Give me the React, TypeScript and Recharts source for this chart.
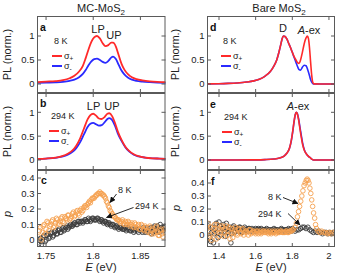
import React from 'react';
import { ComposedChart, Line, Scatter, XAxis, YAxis } from 'recharts';

const FONT = '"Liberation Sans", Arial, sans-serif';
const RED = '#ff2a2a';
const BLUE = '#2a2aff';
const ORANGE = '#f5a04f';
const DARK = '#3c3c3c';
const FRAME = '#5a5a5a';
const TXT = '#222';

// ---------- Panel a: MC-MoS2, 8 K ----------
const aE = [1.740, 1.750, 1.760, 1.768, 1.775, 1.780, 1.785, 1.789, 1.792, 1.795, 1.798, 1.801, 1.804, 1.807, 1.810, 1.813, 1.816, 1.819, 1.821, 1.824, 1.827, 1.830, 1.833, 1.837, 1.841, 1.846, 1.852, 1.860, 1.868, 1.877];
const aPlus = [0.04, 0.05, 0.06, 0.08, 0.12, 0.17, 0.26, 0.38, 0.54, 0.72, 0.88, 0.97, 1.0, 0.95, 0.85, 0.79, 0.81, 0.86, 0.86, 0.78, 0.6, 0.42, 0.3, 0.2, 0.14, 0.1, 0.075, 0.055, 0.045, 0.04];
const aMinus = [0.025, 0.03, 0.035, 0.045, 0.065, 0.09, 0.14, 0.21, 0.29, 0.39, 0.47, 0.52, 0.53, 0.5, 0.46, 0.44, 0.48, 0.55, 0.57, 0.52, 0.4, 0.28, 0.2, 0.13, 0.09, 0.065, 0.05, 0.038, 0.03, 0.025];

// ---------- Panel b: MC-MoS2, 294 K ----------
const bE = [1.740, 1.750, 1.760, 1.767, 1.773, 1.778, 1.782, 1.786, 1.790, 1.794, 1.797, 1.800, 1.803, 1.806, 1.809, 1.812, 1.815, 1.817, 1.820, 1.823, 1.826, 1.830, 1.834, 1.838, 1.843, 1.848, 1.855, 1.863, 1.870, 1.877];
const bPlus = [0.02, 0.03, 0.05, 0.08, 0.13, 0.2, 0.3, 0.45, 0.65, 0.85, 0.94, 0.97, 0.93, 0.87, 0.86, 0.9, 0.97, 0.98, 0.92, 0.78, 0.6, 0.42, 0.28, 0.19, 0.12, 0.08, 0.05, 0.035, 0.03, 0.025];
const bMinus = [0.02, 0.03, 0.045, 0.07, 0.11, 0.17, 0.25, 0.37, 0.53, 0.69, 0.76, 0.78, 0.75, 0.72, 0.73, 0.79, 0.86, 0.88, 0.84, 0.72, 0.56, 0.4, 0.27, 0.18, 0.11, 0.075, 0.05, 0.035, 0.03, 0.025];

// ---------- Panel c: MC-MoS2 polarization (two interleaved energy grids) ----------
const cE = [1.742, 1.744, 1.746, 1.748, 1.750, 1.752, 1.754, 1.756, 1.758, 1.760, 1.762, 1.764, 1.766, 1.768, 1.770, 1.772, 1.774, 1.776, 1.778, 1.780, 1.782, 1.784, 1.786, 1.788, 1.790, 1.792, 1.794, 1.796, 1.798, 1.800, 1.802, 1.804, 1.806, 1.808, 1.810, 1.812, 1.814, 1.816, 1.818, 1.820, 1.822, 1.824, 1.826, 1.828, 1.830, 1.832, 1.834, 1.836, 1.838, 1.840, 1.842, 1.844, 1.846, 1.848, 1.850, 1.852, 1.854, 1.856, 1.858, 1.860, 1.862, 1.864, 1.866, 1.868, 1.870, 1.872, 1.874, 1.876];
const cP8K = [0.02, 0.08, 0.05, 0.10, 0.07, 0.11, 0.09, 0.12, 0.08, 0.11, 0.13, 0.10, 0.14, 0.12, 0.15, 0.13, 0.16, 0.14, 0.17, 0.15, 0.18, 0.17, 0.19, 0.18, 0.21, 0.22, 0.23, 0.25, 0.26, 0.27, 0.28, 0.29, 0.30, 0.30, 0.29, 0.28, 0.25, 0.22, 0.19, 0.17, 0.15, 0.14, 0.13, 0.12, 0.12, 0.11, 0.12, 0.10, 0.11, 0.10, 0.09, 0.11, 0.08, 0.10, 0.07, 0.09, 0.06, 0.08, 0.05, 0.09, 0.06, 0.04, 0.08, 0.05, 0.03, 0.07, 0.02, 0.05];
const cP294K = [-0.03, 0.01, -0.01, 0.03, 0.00, 0.04, 0.02, 0.05, 0.03, 0.06, 0.04, 0.07, 0.05, 0.08, 0.07, 0.09, 0.08, 0.10, 0.09, 0.11, 0.10, 0.12, 0.11, 0.12, 0.12, 0.13, 0.12, 0.13, 0.13, 0.14, 0.13, 0.14, 0.13, 0.13, 0.12, 0.12, 0.11, 0.11, 0.10, 0.10, 0.09, 0.09, 0.08, 0.08, 0.08, 0.07, 0.08, 0.07, 0.07, 0.06, 0.07, 0.06, 0.07, 0.05, 0.07, 0.05, 0.06, 0.08, 0.05, 0.07, 0.04, 0.08, 0.06, 0.09, 0.05, 0.08, 0.06, 0.09];
const cE2 = [1.743, 1.745, 1.747, 1.749, 1.751, 1.753, 1.755, 1.757, 1.759, 1.761, 1.763, 1.765, 1.767, 1.769, 1.771, 1.773, 1.775, 1.777, 1.779, 1.781, 1.783, 1.785, 1.787, 1.789, 1.791, 1.793, 1.795, 1.797, 1.799, 1.801, 1.803, 1.805, 1.807, 1.809, 1.811, 1.813, 1.815, 1.817, 1.819, 1.821, 1.823, 1.825, 1.827, 1.829, 1.831, 1.833, 1.835, 1.837, 1.839, 1.841, 1.843, 1.845, 1.847, 1.849, 1.851, 1.853, 1.855, 1.857, 1.859, 1.861, 1.863, 1.865, 1.867, 1.869, 1.871, 1.873, 1.875];
const cP8K2 = [0.06, 0.00, 0.09, 0.04, 0.12, 0.06, 0.10, 0.13, 0.09, 0.14, 0.11, 0.12, 0.15, 0.11, 0.14, 0.16, 0.13, 0.15, 0.18, 0.16, 0.19, 0.16, 0.20, 0.19, 0.22, 0.21, 0.24, 0.24, 0.27, 0.27, 0.29, 0.30, 0.31, 0.30, 0.29, 0.27, 0.24, 0.21, 0.18, 0.16, 0.15, 0.13, 0.13, 0.11, 0.13, 0.10, 0.11, 0.12, 0.09, 0.11, 0.08, 0.10, 0.09, 0.07, 0.10, 0.07, 0.09, 0.06, 0.08, 0.04, 0.07, 0.05, 0.09, 0.03, 0.06, 0.04, 0.07];
const cP294K2 = [0.00, -0.03, 0.02, -0.01, 0.03, 0.01, 0.04, 0.02, 0.05, 0.04, 0.06, 0.05, 0.07, 0.06, 0.08, 0.07, 0.09, 0.09, 0.10, 0.11, 0.10, 0.12, 0.12, 0.11, 0.13, 0.12, 0.14, 0.12, 0.14, 0.13, 0.13, 0.14, 0.12, 0.13, 0.11, 0.12, 0.10, 0.11, 0.09, 0.10, 0.08, 0.09, 0.07, 0.08, 0.07, 0.07, 0.06, 0.08, 0.06, 0.07, 0.05, 0.07, 0.06, 0.07, 0.06, 0.08, 0.05, 0.07, 0.06, 0.08, 0.05, 0.09, 0.07, 0.06, 0.10, 0.07, 0.08];

// ---------- Panel d: Bare MoS2, 8 K ----------
const dE = [1.33, 1.40, 1.45, 1.50, 1.55, 1.59, 1.62, 1.65, 1.68, 1.70, 1.715, 1.727, 1.737, 1.745, 1.752, 1.76, 1.77, 1.78, 1.79, 1.80, 1.81, 1.82, 1.83, 1.837, 1.845, 1.855, 1.865, 1.875, 1.882, 1.888, 1.894, 1.90, 1.906, 1.912, 1.918, 1.95, 2.0, 2.04];
const dPlus = [0.003, 0.006, 0.012, 0.022, 0.04, 0.065, 0.1, 0.16, 0.26, 0.38, 0.5, 0.66, 0.82, 0.95, 1.0, 0.99, 0.94, 0.85, 0.76, 0.66, 0.57, 0.5, 0.44, 0.43, 0.5, 0.66, 0.84, 0.96, 1.0, 0.95, 0.75, 0.45, 0.18, 0.03, 0.003, 0, 0, 0];
const dMinus = [0.003, 0.006, 0.012, 0.022, 0.04, 0.065, 0.1, 0.16, 0.26, 0.38, 0.5, 0.66, 0.82, 0.95, 1.0, 0.99, 0.94, 0.85, 0.76, 0.66, 0.55, 0.45, 0.35, 0.3, 0.29, 0.35, 0.39, 0.38, 0.32, 0.25, 0.17, 0.09, 0.04, 0.01, 0.002, 0, 0, 0];

// ---------- Panel e: Bare MoS2, 294 K ----------
const eE = [1.33, 1.50, 1.60, 1.65, 1.70, 1.73, 1.755, 1.77, 1.785, 1.795, 1.803, 1.81, 1.816, 1.822, 1.828, 1.834, 1.84, 1.848, 1.856, 1.866, 1.878, 1.89, 1.90, 1.908, 1.915, 1.95, 2.04];
const ePlus = [0, 0, 0.003, 0.008, 0.02, 0.04, 0.08, 0.14, 0.25, 0.42, 0.62, 0.82, 0.95, 1.0, 0.96, 0.85, 0.7, 0.5, 0.33, 0.2, 0.12, 0.07, 0.04, 0.012, 0, 0, 0];
const eMinus = [0, 0, 0.003, 0.008, 0.02, 0.04, 0.08, 0.14, 0.25, 0.41, 0.61, 0.81, 0.95, 1.0, 0.97, 0.87, 0.73, 0.54, 0.36, 0.21, 0.12, 0.07, 0.04, 0.012, 0, 0, 0];

// ---------- Panel f: Bare MoS2 polarization ----------
const fE8K = [1.335, 1.345, 1.355, 1.365, 1.375, 1.385, 1.395, 1.405, 1.415, 1.425, 1.435, 1.445, 1.455, 1.465, 1.475, 1.485, 1.495, 1.505, 1.515, 1.525, 1.535, 1.545, 1.555, 1.565, 1.575, 1.585, 1.595, 1.605, 1.615, 1.625, 1.635, 1.645, 1.655, 1.665, 1.675, 1.685, 1.695, 1.705, 1.715, 1.725, 1.735, 1.745, 1.755, 1.765, 1.775, 1.785, 1.795, 1.805, 1.815, 1.822, 1.828, 1.834, 1.840, 1.846, 1.852, 1.858, 1.864, 1.870, 1.876, 1.881, 1.886, 1.891, 1.896, 1.901, 1.906, 1.911, 1.916, 1.922, 1.927, 1.932, 1.940, 1.950, 1.960, 1.970, 1.980, 1.990, 2.000, 2.010, 2.020, 2.030];
const fP8K = [0.05, -0.02, 0.06, 0.01, 0.08, -0.03, 0.04, 0.02, 0.07, -0.01, 0.05, 0.00, 0.06, 0.02, -0.02, 0.04, 0.01, 0.05, 0.02, 0.04, 0.00, 0.03, 0.02, 0.04, 0.01, 0.03, 0.02, 0.03, 0.01, 0.03, 0.02, 0.03, 0.02, 0.02, 0.03, 0.01, 0.02, 0.03, 0.02, 0.02, 0.03, 0.02, 0.02, 0.03, 0.02, 0.03, 0.03, 0.04, 0.06, 0.09, 0.14, 0.18, 0.22, 0.26, 0.30, 0.34, 0.38, 0.40, 0.42, 0.43, 0.42, 0.40, 0.36, 0.32, 0.27, 0.22, 0.17, 0.13, 0.08, 0.05, 0.03, 0.02, 0.03, 0.02, 0.02, 0.01, 0.02, 0.01, 0.02, 0.01];
const fE294K = [1.335, 1.345, 1.355, 1.365, 1.375, 1.385, 1.395, 1.405, 1.415, 1.425, 1.435, 1.445, 1.455, 1.465, 1.475, 1.485, 1.495, 1.505, 1.515, 1.525, 1.535, 1.545, 1.555, 1.565, 1.575, 1.585, 1.595, 1.605, 1.615, 1.625, 1.635, 1.645, 1.655, 1.665, 1.675, 1.685, 1.695, 1.705, 1.715, 1.725, 1.735, 1.745, 1.755, 1.765, 1.775, 1.785, 1.795, 1.805, 1.815, 1.825, 1.835, 1.845, 1.855, 1.865, 1.875, 1.885, 1.895, 1.905, 1.915, 1.925, 1.935, 1.945, 1.955, 1.965, 1.975, 1.985, 1.995, 2.005, 2.015, 2.025];
const fP294K = [-0.04, 0.03, -0.05, 0.06, 0.01, 0.09, -0.02, 0.07, 0.03, 0.08, -0.01, 0.05, 0.04, -0.06, 0.06, 0.02, 0.05, 0.03, 0.06, 0.02, 0.05, 0.04, 0.03, 0.05, 0.03, 0.04, 0.04, 0.03, 0.05, 0.04, 0.03, 0.04, 0.04, 0.03, 0.04, 0.04, 0.03, 0.04, 0.04, 0.03, 0.04, 0.04, 0.03, 0.04, 0.03, 0.04, 0.03, 0.04, 0.03, 0.04, 0.04, 0.05, 0.06, 0.06, 0.05, 0.06, 0.04, 0.03, 0.02, 0.03, 0.02, 0.03, 0.02, 0.01, 0.02, 0.02, 0.01, 0.02, 0.01, 0.02];
const fE2 = [1.34, 1.35, 1.36, 1.37, 1.38, 1.39, 1.40, 1.41, 1.42, 1.43, 1.44, 1.45, 1.46, 1.47, 1.48, 1.49, 1.50, 1.51, 1.52, 1.53, 1.54, 1.55, 1.56, 1.57, 1.58, 1.59, 1.60, 1.61, 1.62, 1.63, 1.64, 1.65, 1.66, 1.67, 1.68, 1.69, 1.70, 1.71, 1.72, 1.73, 1.74, 1.75, 1.76, 1.77, 1.78, 1.79, 1.80];
const fP8K2 = [0.09, 0.00, -0.04, 0.05, 0.03, 0.08, -0.01, 0.04, 0.06, 0.01, 0.07, 0.03, -0.03, 0.05, 0.02, 0.06, 0.00, 0.04, 0.01, 0.05, 0.02, 0.03, 0.00, 0.04, 0.02, 0.03, 0.01, 0.03, 0.02, 0.01, 0.03, 0.02, 0.03, 0.01, 0.02, 0.03, 0.02, 0.01, 0.03, 0.02, 0.03, 0.02, 0.02, 0.03, 0.02, 0.03, 0.04];
const fP294K2 = [0.07, -0.02, 0.02, -0.06, 0.05, 0.02, 0.10, 0.00, 0.05, 0.03, 0.09, 0.02, 0.06, 0.01, 0.07, 0.03, 0.05, 0.06, 0.03, 0.04, 0.06, 0.04, 0.05, 0.04, 0.05, 0.03, 0.05, 0.04, 0.04, 0.05, 0.04, 0.04, 0.05, 0.04, 0.03, 0.04, 0.05, 0.04, 0.04, 0.03, 0.05, 0.04, 0.04, 0.04, 0.05, 0.04, 0.05];

// ---------- axes ----------
const leftXTicks = [1.75, 1.8, 1.85];
const leftXLabels = ['1.75', '1.8', '1.85'];
const rightXTicks = [1.4, 1.6, 1.8, 2.0];
const rightXLabels = ['1.4', '1.6', '1.8', '2'];
const plTicks = [0, 0.5, 1];
const plLabels = ['0', '0.5', '1'];
const pTicksC = [0, 0.1, 0.2, 0.3, 0.4];
const pLabelsC = ['0', '0.1', '0.2', '0.3', '0.4'];

const zip = (xs: number[], ys: number[]) => xs.map((e, i) => ({ e, v: ys[i] }));

type PanelProps = {
  L: number; T: number; R: number; B: number;
  xDomain: [number, number]; yDomain: [number, number];
  xTicks: number[]; xLabels: string[] | null;
  yTicks: number[]; yLabels: string[];
  children?: React.ReactNode;
};

const AXW = 30;
const AXH = 20;

function Panel({ L, T, R, B, xDomain, yDomain, xTicks, xLabels, yTicks, yLabels, children }: PanelProps) {
  const XTick = (p: any) => {
    const x = p.x;
    const val = p.payload ? p.payload.value : 0;
    const idx = xTicks.findIndex((t) => Math.abs(t - val) < 1e-9);
    return (
      <g>
        <line x1={x} x2={x} y1={B} y2={B - 4} stroke={FRAME} strokeWidth={1} />
        <line x1={x} x2={x} y1={T} y2={T + 4} stroke={FRAME} strokeWidth={1} />
        {xLabels && (
          <text x={x} y={B + 12} textAnchor="middle" fontSize={9.5} fill={TXT} fontFamily={FONT}>
            {xLabels[idx]}
          </text>
        )}
      </g>
    );
  };
  const YTick = (p: any) => {
    const y = p.y;
    const val = p.payload ? p.payload.value : 0;
    const idx = yTicks.findIndex((t) => Math.abs(t - val) < 1e-9);
    return (
      <g>
        <line x1={L} x2={L + 4} y1={y} y2={y} stroke={FRAME} strokeWidth={1} />
        <line x1={R} x2={R - 4} y1={y} y2={y} stroke={FRAME} strokeWidth={1} />
        <text x={L - 2.5} y={y + 3.4} textAnchor="end" fontSize={9.5} fill={TXT} fontFamily={FONT}>
          {yLabels[idx]}
        </text>
      </g>
    );
  };
  return (
    <div style={{ position: 'absolute', left: 0, top: 0 }}>
      <ComposedChart width={337} height={277}
        margin={{ top: T, left: L - AXW, right: 337 - R, bottom: 277 - B - AXH }}>
        <XAxis type="number" dataKey="e" domain={xDomain} ticks={xTicks} allowDataOverflow height={AXH}
          axisLine={false} tickLine={false} tick={XTick} interval={0} />
        <YAxis type="number" dataKey="v" domain={yDomain} ticks={yTicks} allowDataOverflow width={AXW}
          axisLine={false} tickLine={false} tick={YTick} interval={0} />
        {children}
      </ComposedChart>
    </div>
  );
}

const circleShape = (color: string) => (props: any) => (
  <circle cx={props.cx} cy={props.cy} r={2.3} fill="none" stroke={color} strokeWidth={0.9} />
);

const LX: [number, number] = [1.7404, 1.8766];
const RX: [number, number] = [1.3345, 2.033];
const LL = 37, LR = 165.5, RL = 207, RR = 335;
const R1T = 16, R1B = 93, R2T = 93, R2B = 170, R3T = 170, R3B = 247;

const Sig = ({ x, y, sign }: { x: number; y: number; sign: string }) => (
  <text x={x} y={y} fontSize={9} fill={TXT} fontFamily={FONT}>
    σ<tspan dy={2} fontSize={6.5}>{sign}</tspan>
  </text>
);

function Legend({ x, y, label }: { x: number; y: number; label: string }) {
  return (
    <g>
      <text x={x + 2} y={y} fontSize={9} fill={TXT} fontFamily={FONT}>{label}</text>
      <line x1={x} x2={x + 10} y1={y + 12} y2={y + 12} stroke={RED} strokeWidth={2} />
      <Sig x={x + 12} y={y + 15} sign="+" />
      <line x1={x} x2={x + 10} y1={y + 22} y2={y + 22} stroke={BLUE} strokeWidth={2} />
      <Sig x={x + 12} y={y + 25} sign="-" />
    </g>
  );
}

function Overlay() {
  const frames = [
    [LL, R1T, LR, R1B], [LL, R2T, LR, R2B], [LL, R3T, LR, R3B],
    [RL, R1T, RR, R1B], [RL, R2T, RR, R2B], [RL, R3T, RR, R3B],
  ];
  return (
    <svg width={337} height={277} style={{ position: 'absolute', left: 0, top: 0, pointerEvents: 'none' }}
      fontFamily={FONT}>
      <defs>
        <marker id="ah" markerWidth={6} markerHeight={6} refX={5.5} refY={3} orient="auto" markerUnits="userSpaceOnUse">
          <path d="M0,0 L6,3 L0,6 z" fill="#111" />
        </marker>
      </defs>
      {frames.map((f, i) => (
        <rect key={i} x={f[0] + 0.5} y={f[1] + 0.5} width={f[2] - f[0] - 1} height={f[3] - f[1] - 1}
          fill="none" stroke={FRAME} strokeWidth={1} />
      ))}
      {/* titles */}
      <text x={101} y={12} textAnchor="middle" fontSize={11} fill={TXT}>MC-MoS<tspan dy={3} fontSize={8}>2</tspan></text>
      <text x={279} y={12} textAnchor="middle" fontSize={11} fill={TXT}>Bare MoS<tspan dy={3} fontSize={8}>2</tspan></text>
      {/* y labels */}
      <text transform="translate(10.5,54.5) rotate(-90)" textAnchor="middle" fontSize={11} fill={TXT}>PL (norm.)</text>
      <text transform="translate(10.5,131.5) rotate(-90)" textAnchor="middle" fontSize={11} fill={TXT}>PL (norm.)</text>
      <text transform="translate(11,214) rotate(-90)" textAnchor="middle" fontSize={11} fontStyle="italic" fill={TXT}>p</text>
      <text transform="translate(178.5,54.5) rotate(-90)" textAnchor="middle" fontSize={11} fill={TXT}>PL (norm.)</text>
      <text transform="translate(178.5,131.5) rotate(-90)" textAnchor="middle" fontSize={11} fill={TXT}>PL (norm.)</text>
      <text transform="translate(180,208) rotate(-90)" textAnchor="middle" fontSize={11} fontStyle="italic" fill={TXT}>p</text>
      {/* x labels */}
      <text x={101} y={271} textAnchor="middle" fontSize={11} fill={TXT}><tspan fontStyle="italic">E</tspan> (eV)</text>
      <text x={271} y={271} textAnchor="middle" fontSize={11} fill={TXT}><tspan fontStyle="italic">E</tspan> (eV)</text>
      {/* panel letters */}
      <text x={40} y={31} fontSize={10.5} fontWeight="bold" fill="#111">a</text>
      <text x={40} y={107} fontSize={10.5} fontWeight="bold" fill="#111">b</text>
      <text x={41} y={184} fontSize={10.5} fontWeight="bold" fill="#111">c</text>
      <text x={210} y={31} fontSize={10.5} fontWeight="bold" fill="#111">d</text>
      <text x={210} y={108} fontSize={10.5} fontWeight="bold" fill="#111">e</text>
      <text x={211} y={185} fontSize={10.5} fontWeight="bold" fill="#111">f</text>
      {/* legends */}
      <Legend x={52} y={44} label="8 K" />
      <Legend x={49} y={119} label="294 K" />
      <Legend x={221} y={44} label="8 K" />
      <Legend x={222} y={120} label="294 K" />
      {/* peak labels */}
      <text x={98} y={33} textAnchor="middle" fontSize={11} fill={TXT}>LP</text>
      <text x={114} y={39} textAnchor="middle" fontSize={11} fill={TXT}>UP</text>
      <text x={93.5} y={110} textAnchor="middle" fontSize={11} fill={TXT}>LP</text>
      <text x={112} y={110} textAnchor="middle" fontSize={11} fill={TXT}>UP</text>
      <text x={283} y={32} textAnchor="middle" fontSize={11} fill={TXT}>D</text>
      <text x={309} y={34} textAnchor="middle" fontSize={11} fill={TXT}><tspan fontStyle="italic">A</tspan>-ex</text>
      <text x={298} y={110} textAnchor="middle" fontSize={11} fill={TXT}><tspan fontStyle="italic">A</tspan>-ex</text>
      {/* arrows c */}
      <text x={118} y={192.5} fontSize={9} fill={TXT}>8 K</text>
      <line x1={116.5} y1={194} x2={110} y2={202.5} stroke="#111" strokeWidth={0.9} markerEnd="url(#ah)" />
      <text x={135} y={208.5} fontSize={9} fill={TXT}>294 K</text>
      <line x1={133.5} y1={207.5} x2={106.5} y2={217.5} stroke="#111" strokeWidth={0.9} markerEnd="url(#ah)" />
      {/* arrows f */}
      <text x={268} y={200} fontSize={9} fill={TXT}>8 K</text>
      <line x1={283} y1={197.5} x2={298} y2={203.5} stroke="#111" strokeWidth={0.9} markerEnd="url(#ah)" />
      <text x={258} y={216.5} fontSize={9} fill={TXT}>294 K</text>
      <line x1={288} y1={213.5} x2={300} y2={225} stroke="#111" strokeWidth={0.9} markerEnd="url(#ah)" />
    </svg>
  );
}

export default function App() {
  const c294 = zip(cE, cP294K).concat(zip(cE2, cP294K2));
  const c8 = zip(cE, cP8K).concat(zip(cE2, cP8K2));
  const f294 = zip(fE294K, fP294K).concat(zip(fE2, fP294K2));
  const f8 = zip(fE8K, fP8K).concat(zip(fE2, fP8K2));
  return (
    <div style={{ position: 'absolute', left: 0, top: 0, width: 337, height: 277, background: '#fff' }}>
      <Panel L={LL} T={R1T} R={LR} B={R1B} xDomain={LX} yDomain={[-0.1875, 1.4167]}
        xTicks={leftXTicks} xLabels={null} yTicks={plTicks} yLabels={plLabels}>
        <Line data={zip(aE, aMinus)} dataKey="v" type="monotone" stroke={BLUE} strokeWidth={1.8} dot={false} isAnimationActive={false} />
        <Line data={zip(aE, aPlus)} dataKey="v" type="monotone" stroke={RED} strokeWidth={1.8} dot={false} isAnimationActive={false} />
      </Panel>
      <Panel L={LL} T={R2T} R={LR} B={R2B} xDomain={LX} yDomain={[-0.21, 1.405]}
        xTicks={leftXTicks} xLabels={null} yTicks={plTicks} yLabels={plLabels}>
        <Line data={zip(bE, bMinus)} dataKey="v" type="monotone" stroke={BLUE} strokeWidth={1.8} dot={false} isAnimationActive={false} />
        <Line data={zip(bE, bPlus)} dataKey="v" type="monotone" stroke={RED} strokeWidth={1.8} dot={false} isAnimationActive={false} />
      </Panel>
      <Panel L={LL} T={R3T} R={LR} B={R3B} xDomain={LX} yDomain={[-0.045, 0.4516]}
        xTicks={leftXTicks} xLabels={leftXLabels} yTicks={pTicksC} yLabels={pLabelsC}>
        <Scatter data={c294} dataKey="v" shape={circleShape(DARK)} isAnimationActive={false} />
        <Scatter data={c8} dataKey="v" shape={circleShape(ORANGE)} isAnimationActive={false} />
      </Panel>
      <Panel L={RL} T={R1T} R={RR} B={R1B} xDomain={RX} yDomain={[-0.1875, 1.4167]}
        xTicks={rightXTicks} xLabels={null} yTicks={plTicks} yLabels={plLabels}>
        <Line data={zip(dE, dMinus)} dataKey="v" type="monotone" stroke={BLUE} strokeWidth={1.6} dot={false} isAnimationActive={false} />
        <Line data={zip(dE, dPlus)} dataKey="v" type="monotone" stroke={RED} strokeWidth={1.6} dot={false} isAnimationActive={false} />
      </Panel>
      <Panel L={RL} T={R2T} R={RR} B={R2B} xDomain={RX} yDomain={[-0.21, 1.405]}
        xTicks={rightXTicks} xLabels={null} yTicks={plTicks} yLabels={plLabels}>
        <Line data={zip(eE, eMinus)} dataKey="v" type="monotone" stroke={BLUE} strokeWidth={1.6} dot={false} isAnimationActive={false} />
        <Line data={zip(eE, ePlus)} dataKey="v" type="monotone" stroke={RED} strokeWidth={1.6} dot={false} isAnimationActive={false} />
      </Panel>
      <Panel L={RL} T={R3T} R={RR} B={R3B} xDomain={RX} yDomain={[-0.092, 0.5]}
        xTicks={rightXTicks} xLabels={rightXLabels} yTicks={pTicksC} yLabels={pLabelsC}>
        <Scatter data={f294} dataKey="v" shape={circleShape(DARK)} isAnimationActive={false} />
        <Scatter data={f8} dataKey="v" shape={circleShape(ORANGE)} isAnimationActive={false} />
      </Panel>
      <Overlay />
    </div>
  );
}
